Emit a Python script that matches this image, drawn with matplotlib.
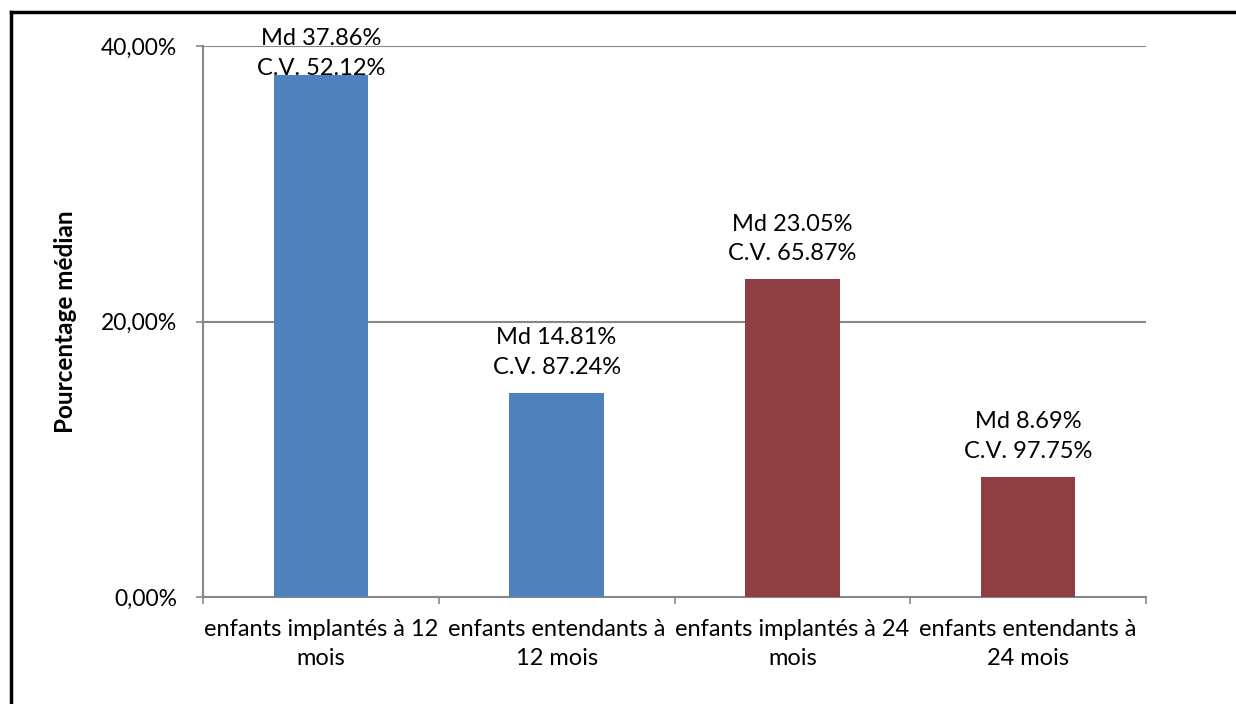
"""
Median percentage bar chart: implanted vs hearing children at 12 and 24 months.
"""

import matplotlib
matplotlib.use("Agg")
import matplotlib.pyplot as plt
from matplotlib.lines import Line2D
from matplotlib.ticker import FixedLocator, FuncFormatter

categories = ["enfants implantés à 12\nmois", "enfants entendants à\n12 mois",
              "enfants implantés à 24\nmois", "enfants entendants à\n24 mois"]
medians = [37.86, 14.81, 23.05, 8.69]
cvs = [52.12, 87.24, 65.87, 97.75]
bar_colors = ["#4F81BD", "#4F81BD", "#8E3D40", "#8E3D40"]
yticks = [0, 20, 40]

plt.rcParams["font.family"] = ["Lato", "DejaVu Sans"]
FS = 17
GREY = "#878787"

fig = plt.figure(figsize=(12.36, 7.04), dpi=100)
W, H = 1236, 704
ax = fig.add_axes([203 / W, (H - 597) / H, (1146 - 203) / W, (597 - 46) / H])

xs = range(len(categories))
ax.bar(xs, medians, width=0.4, color=bar_colors, zorder=3)

ax.set_xlim(-0.5, 3.5)
ax.set_ylim(0, 40)

# gridlines at 20 and 40
for t in yticks[1:]:
    ax.axhline(t, color=GREY, linewidth=1.5, zorder=1)

# data labels above the bars
for x, m, cv in zip(xs, medians, cvs):
    y = min(m + 2.95, 39.45)
    ax.text(x, y, "Md %.2f%%\nC.V. %.2f%%" % (m, cv), ha="center",
            va="center", fontsize=FS, linespacing=1.5, zorder=4)

for side in ["top", "right"]:
    ax.spines[side].set_visible(False)
for side in ["left", "bottom"]:
    ax.spines[side].set_color(GREY)
    ax.spines[side].set_linewidth(1.5)

ax.yaxis.set_major_locator(FixedLocator(yticks))
ax.yaxis.set_major_formatter(
    FuncFormatter(lambda v, p: ("%.2f%%" % v).replace(".", ",")))
ax.tick_params(axis="y", direction="out", length=5, width=1.2, color=GREY,
               pad=13.5, labelsize=16.5)

ax.set_xticks(list(xs))
ax.set_xticklabels(categories, fontsize=FS, linespacing=1.45)
ax.set_xticks([-0.5, 0.5, 1.5, 2.5, 3.5], minor=True)
ax.tick_params(axis="x", which="major", length=0, pad=16)
ax.tick_params(axis="x", which="minor", direction="out", length=5, width=1.2,
               color=GREY)

ax.set_ylabel("Pourcentage médian", fontsize=17.5, fontweight="bold")
ax.yaxis.set_label_coords(-0.134, 0.5)

# frame around the chart (top and left edges)
fig.add_artist(Line2D([10.5 / W, 10.5 / W], [0, (H - 12) / H],
                      transform=fig.transFigure, color="black", linewidth=2.5))
fig.add_artist(Line2D([10.5 / W, 1.01], [(H - 12) / H, (H - 12) / H],
                      transform=fig.transFigure, color="black", linewidth=2.5))

fig.savefig("out.png", dpi=100)
